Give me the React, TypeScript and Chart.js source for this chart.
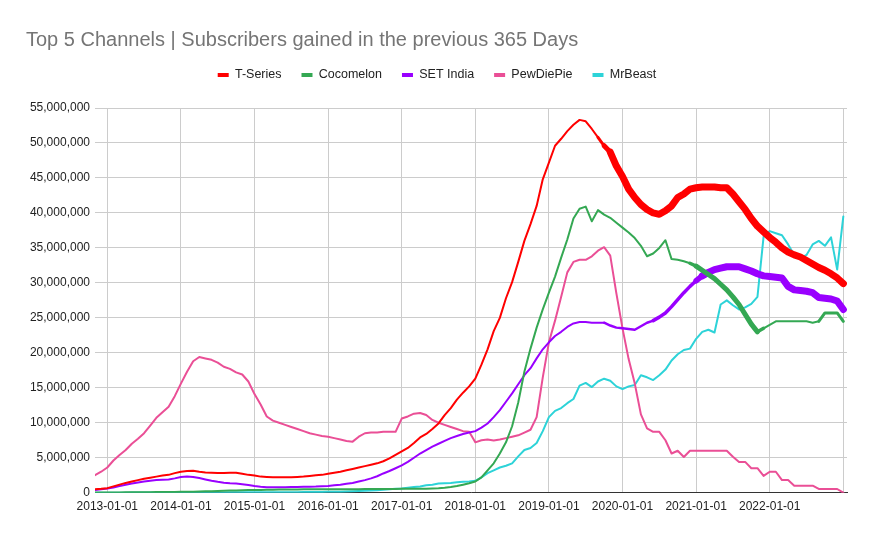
import React, { useEffect, useRef } from 'react';
import { Chart, registerables } from 'chart.js';

Chart.register(...registerables);

const TITLE = 'Top 5 Channels | Subscribers gained in the previous 365 Days';

// Monthly sample dates from 2012-11 to 2023-01
const MONTHS: string[] = [];
for (let y = 2012, m = 11; y < 2023 || (y === 2023 && m === 1); ) {
  MONTHS.push(`${y}-${String(m).padStart(2, '0')}`);
  m++;
  if (m > 12) { m = 1; y++; }
}

const X_TICK_LABELS = [
  '2013-01-01', '2014-01-01', '2015-01-01', '2016-01-01', '2017-01-01',
  '2018-01-01', '2019-01-01', '2020-01-01', '2021-01-01', '2022-01-01',
];

// Subscribers gained in previous 365 days, in millions
const T_SERIES = [
  0.5, 0.55, 0.65, 0.9, 1.15, 1.4, 1.6, 1.8, 2.0, 2.15,
  2.3, 2.45, 2.55, 2.8, 3.0, 3.1, 3.15, 3.0, 2.9, 2.85,
  2.8, 2.8, 2.85, 2.85, 2.7, 2.55, 2.45, 2.3, 2.25, 2.2,
  2.2, 2.2, 2.2, 2.25, 2.3, 2.4, 2.5, 2.55, 2.7, 2.85,
  3.0, 3.2, 3.4, 3.6, 3.8, 4.0, 4.2, 4.5, 4.9, 5.4,
  5.9, 6.4, 7.1, 7.9, 8.4, 9.1, 9.9, 11.1, 12.1, 13.3,
  14.3, 15.2, 16.3, 18.3, 20.5, 23.1, 25.0, 27.8, 30.1, 33.0,
  36.0, 38.4, 41.0, 44.8, 47.2, 49.6, 50.6, 51.7, 52.6, 53.3,
  53.1, 52.0, 50.8, 49.6, 48.7, 46.7, 45.2, 43.4, 42.2, 41.2,
  40.5, 40.0, 39.8, 40.3, 41.0, 42.2, 42.7, 43.4, 43.6, 43.7,
  43.7, 43.7, 43.6, 43.6, 42.7, 41.6, 40.5, 39.2, 38.1, 37.3,
  36.5, 35.8, 35.0, 34.4, 34.0, 33.7, 33.2, 32.7, 32.2, 31.8,
  31.3, 30.7, 29.9,
];

const COCOMELON = [
  0.02, 0.02, 0.03, 0.03, 0.04, 0.05, 0.05, 0.06, 0.07, 0.08,
  0.09, 0.1, 0.1, 0.11, 0.12, 0.13, 0.15, 0.17, 0.2, 0.22,
  0.25, 0.27, 0.3, 0.32, 0.35, 0.37, 0.4, 0.4, 0.42, 0.43,
  0.45, 0.45, 0.46, 0.47, 0.48, 0.48, 0.5, 0.5, 0.5, 0.5,
  0.5, 0.5, 0.5, 0.5, 0.52, 0.52, 0.53, 0.53, 0.54, 0.54,
  0.55, 0.55, 0.56, 0.57, 0.58, 0.6, 0.62, 0.7, 0.8, 0.95,
  1.15, 1.35, 1.6, 2.2, 3.2, 4.2, 5.6, 7.2, 9.5, 12.9,
  17.3, 20.6, 23.6, 26.2, 28.6, 30.9, 33.6, 36.2, 39.2, 40.6,
  40.9, 38.8, 40.4, 39.75, 39.3, 38.6, 37.9, 37.2, 36.4, 35.3,
  33.8, 34.2, 35.0, 36.1, 33.4, 33.3, 33.1, 32.8, 32.4, 31.8,
  31.2, 30.6, 29.8, 29.0, 28.0, 26.9, 25.5, 24.1, 23.0, 23.5,
  24.0, 24.5, 24.5, 24.5, 24.5, 24.5, 24.5, 24.3, 24.5, 25.7,
  25.7, 25.7, 24.5,
];

const SET_INDIA = [
  0.4, 0.5, 0.6, 0.75, 0.95, 1.15, 1.3, 1.45, 1.6, 1.72,
  1.8, 1.85, 1.9, 2.05, 2.25, 2.3, 2.25, 2.1, 1.9, 1.7,
  1.55, 1.43, 1.35, 1.3, 1.22, 1.1, 0.95, 0.85, 0.78, 0.77,
  0.77, 0.78, 0.8, 0.82, 0.85, 0.86, 0.88, 0.92, 0.95, 1.05,
  1.15, 1.28, 1.4, 1.6, 1.8, 2.05, 2.35, 2.75, 3.1, 3.5,
  3.9, 4.4, 5.0, 5.6, 6.1, 6.6, 7.0, 7.4, 7.8, 8.1,
  8.4, 8.6, 8.8, 9.3, 9.9, 10.8, 11.8, 13.0, 14.2, 15.5,
  16.8, 17.8, 19.2, 20.5, 21.5, 22.4, 23.0, 23.7, 24.2, 24.4,
  24.4, 24.3, 24.3, 24.3, 23.9, 23.6, 23.5, 23.4, 23.3, 23.8,
  24.3, 24.6, 25.1, 25.7, 26.6, 27.6, 28.6, 29.5, 30.3, 31.0,
  31.5, 31.9, 32.1, 32.3, 32.3, 32.3, 32.0, 31.7, 31.3, 31.0,
  30.9, 30.8, 30.7, 29.5, 29.0, 28.9, 28.8, 28.6, 27.9, 27.8,
  27.7, 27.4, 26.2,
];

const PEWDIEPIE = [
  2.5, 3.0, 3.6, 4.6, 5.4, 6.1, 7.0, 7.7, 8.5, 9.6,
  10.7, 11.5, 12.3, 13.8, 15.6, 17.3, 18.8, 19.4, 19.2, 19.0,
  18.6, 18.0, 17.7, 17.2, 16.9, 15.9, 14.1, 12.6, 10.9, 10.3,
  10.0, 9.7, 9.4, 9.1, 8.8, 8.5, 8.3, 8.1, 8.0, 7.8,
  7.6, 7.4, 7.3, 8.0, 8.5, 8.6, 8.6, 8.7, 8.7, 8.7,
  10.6, 10.9, 11.3, 11.4, 11.1, 10.4, 10.0, 9.7, 9.4, 9.1,
  8.8, 8.7, 7.2, 7.5, 7.6, 7.45, 7.6, 7.8, 8.0, 8.2,
  8.6, 9.0, 10.8, 16.5, 21.5, 24.6, 28.0, 31.5, 33.0, 33.3,
  33.3, 33.8, 34.6, 35.1, 33.9, 28.5, 23.5, 19.1, 15.6, 11.2,
  9.2, 8.7, 8.7, 7.5, 5.6, 6.0, 5.1, 6.0, 6.0, 6.0,
  6.0, 6.0, 6.0, 6.0, 5.15, 4.4, 4.4, 3.5, 3.5, 2.4,
  3.0, 3.0, 1.8, 1.8, 1.0, 1.0, 1.0, 1.0, 0.53, 0.53,
  0.53, 0.53, 0.0,
];

const MRBEAST = [
  0.01, 0.01, 0.01, 0.01, 0.01, 0.01, 0.02, 0.02, 0.02, 0.02,
  0.02, 0.02, 0.03, 0.03, 0.03, 0.03, 0.03, 0.03, 0.04, 0.04,
  0.04, 0.04, 0.05, 0.05, 0.05, 0.05, 0.05, 0.06, 0.06, 0.06,
  0.07, 0.07, 0.08, 0.08, 0.09, 0.1, 0.1, 0.11, 0.12, 0.14,
  0.15, 0.17, 0.2, 0.23, 0.27, 0.3, 0.35, 0.42, 0.5, 0.55,
  0.6, 0.7, 0.8, 0.9, 1.05, 1.15, 1.3, 1.35, 1.4, 1.5,
  1.55, 1.6, 1.7, 2.2, 2.8, 3.2, 3.6, 3.85, 4.2, 5.2,
  6.1, 6.4, 7.1, 8.8, 10.8, 11.7, 12.1, 12.8, 13.4, 15.3,
  15.7, 15.1, 15.9, 16.3, 16.0, 15.2, 14.8, 15.2, 15.4, 16.8,
  16.5, 16.1, 16.8, 17.6, 18.9, 19.8, 20.4, 20.6, 22.0, 23.0,
  23.3, 22.9, 26.9, 27.5, 26.8, 26.2, 26.5, 27.0, 28.0, 36.6,
  37.4, 37.1, 36.8, 35.5, 34.0, 33.5, 34.0, 35.5, 36.0, 35.3,
  36.5, 31.9, 39.5,
];

const SERIES_NAMES = ['T-Series', 'Cocomelon', 'SET India', 'PewDiePie', 'MrBeast'];
const SERIES_VALUES = [T_SERIES, COCOMELON, SET_INDIA, PEWDIEPIE, MRBEAST];
const SERIES_COLORS = ['#ff0000', '#34a853', '#9900ff', '#ea4f96', '#2dd3d8'];

const Y_MAX = 55000000;
const Y_STEP = 5000000;

const FONT_FAMILY = '"Liberation Sans", Arial, Helvetica, sans-serif';

function monthToYear(s: string): number {
  const [y, m] = s.split('-').map(Number);
  return y + (m - 1) / 12;
}

function withCommas(v: number): string {
  return String(Math.round(v)).replace(/\B(?=(\d{3})+(?!\d))/g, ',');
}

// Segment widths reflecting the dense daily jitter of the source data
function segWidth(seriesIndex: number, i: number): number {
  if (seriesIndex === 0) {
    if (i >= 84) return 7;
    if (i === 83) return 5;
    if (i === 82) return 3;
    return 2;
  }
  if (seriesIndex === 1) {
    if (i >= 98 && i <= 107) return 5;
    if (i === 97 || i === 108) return 3.5;
    if (i >= 118) return 3;
    return 2;
  }
  if (seriesIndex === 2) {
    if (i >= 99) return 7;
    if (i === 98) return 5.5;
    if (i >= 91) return 3.5;
    if (i >= 83) return 2.5;
    return 2;
  }
  return 2;
}

const refLayoutPlugin = {
  id: 'refLayout',
  beforeInit(chart: any) {
    const lg = chart.legend;
    if (lg && !lg._refPatched) {
      const fit = lg.fit;
      lg.fit = function () {
        fit.call(this);
        this.height += 16.75;
      };
      lg._refPatched = true;
    }
  },
  afterDraw(chart: any) {
    const ctx = chart.ctx;
    ctx.save();
    ctx.font = `20px ${FONT_FAMILY}`;
    ctx.fillStyle = '#757575';
    ctx.textBaseline = 'middle';
    ctx.textAlign = 'left';
    ctx.fillText(TITLE, 26, 40);
    ctx.restore();
  },
};

export default function App() {
  const canvasRef = useRef<HTMLCanvasElement | null>(null);

  useEffect(() => {
    if (!canvasRef.current) return;
    const xs = MONTHS.map(monthToYear);
    const datasets = SERIES_NAMES.map((name, si) => ({
      label: name,
      data: SERIES_VALUES[si].map((v, i) => ({ x: xs[i], y: v * 1000000 })),
      borderColor: SERIES_COLORS[si],
      backgroundColor: SERIES_COLORS[si],
      borderWidth: 2,
      borderJoinStyle: 'round',
      borderCapStyle: 'round',
      pointRadius: 0,
      pointHoverRadius: 0,
      tension: 0,
      fill: false,
      segment: {
        borderWidth: (ctx: any) => segWidth(si, ctx.p0DataIndex),
      },
    }));

    const chart = new Chart(canvasRef.current, {
      type: 'line',
      data: { datasets },
      plugins: [refLayoutPlugin],
      options: {
        responsive: false,
        animation: false,
        devicePixelRatio: 1,
        layout: { padding: { top: 48.75, left: 0, right: 0, bottom: 0 } },
        font: { family: FONT_FAMILY },
        plugins: {
          title: { display: false },
          tooltip: { enabled: false },
          legend: {
            display: true,
            position: 'top',
            align: 'center',
            labels: {
              font: { family: FONT_FAMILY, size: 12.5 },
              color: '#222222',
              boxWidth: 11,
              boxHeight: 4,
              padding: 20,
              generateLabels: (c: any) =>
                Chart.defaults.plugins.legend.labels.generateLabels(c).map((l: any) => ({
                  ...l,
                  lineWidth: 0,
                })),
            },
          },
        },
        scales: {
          x: {
            type: 'linear',
            min: 2012.833,
            max: 2023.05,
            afterFit: (scale: any) => {
              scale.height = 47.3;
            },
            ticks: {
              stepSize: 1,
              includeBounds: false,
              autoSkip: false,
              maxRotation: 0,
              minRotation: 0,
              padding: 7,
              color: '#222222',
              font: { family: FONT_FAMILY, size: 12 },
              callback: (v: any) => {
                const idx = Math.round(Number(v)) - 2013;
                return idx >= 0 && idx < X_TICK_LABELS.length ? X_TICK_LABELS[idx] : '';
              },
            },
            grid: { color: '#cccccc', lineWidth: 1, drawTicks: false },
            border: { display: true, color: '#333333', width: 1 },
          },
          y: {
            type: 'linear',
            position: 'left',
            min: 0,
            max: Y_MAX,
            afterFit: (scale: any) => {
              scale.width = 95;
            },
            ticks: {
              stepSize: Y_STEP,
              padding: 5,
              color: '#222222',
              font: { family: FONT_FAMILY, size: 12 },
              callback: (v: any) => withCommas(Number(v)),
            },
            grid: { color: '#cccccc', lineWidth: 1, drawTicks: false },
            border: { display: false },
          },
          yRight: {
            type: 'linear',
            position: 'right',
            display: true,
            min: 0,
            max: Y_MAX,
            afterFit: (scale: any) => {
              scale.width = 27;
            },
            ticks: { display: false },
            grid: { display: false, drawTicks: false },
            border: { display: false },
          },
        },
      },
    } as any);

    return () => chart.destroy();
  }, []);

  return (
    <div style={{ position: 'fixed', left: 0, top: 0, width: 874, height: 540, background: '#ffffff' }}>
      <canvas ref={canvasRef} width={874} height={540} style={{ display: 'block' }} />
    </div>
  );
}
